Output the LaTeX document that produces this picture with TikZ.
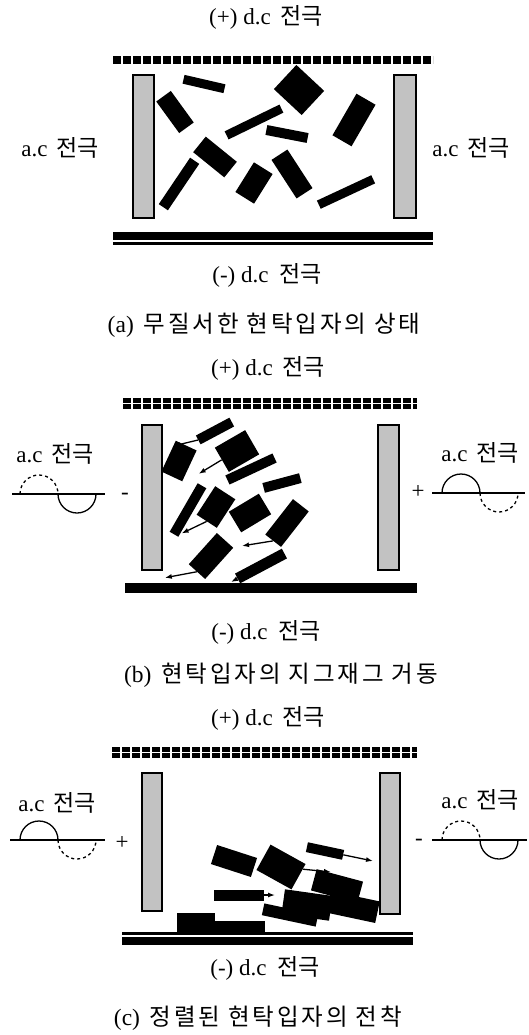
\documentclass[tikz,border=0pt]{standalone}
\usepackage{fontspec}
\setmainfont{Liberation Serif}
\newfontfamily\kr{Noto Sans CJK KR}
\newfontfamily\krcap[LetterSpace=12]{Noto Sans CJK KR}
\usetikzlibrary{arrows.meta}
\newcommand{\dcneg}{(-) d.c\hspace{5pt} {\kr 전극}}
\newcommand{\dcpos}{(+) d.c\hspace{4pt} {\kr 전극}}
\newcommand{\acel}{a.c\hspace{3pt} {\kr 전극}}

\begin{document}
\begin{tikzpicture}[x=1pt, y=-1pt,
    lbl/.style={font=\fontsize{23}{26}\selectfont, inner sep=0pt},
    caption/.style={font=\fontsize{23.5}{26}\selectfont, inner sep=0pt},
    acplate/.style={draw, line width=1.8pt, fill=black!24},
    dcplate/.style={line width=#1, dash pattern=on 8pt off 2pt},
    grain/.style={rectangle, fill=black, inner sep=0pt},
    drift/.style={line width=1.3pt, -{Latex[length=7pt,width=5pt]}},
    wave/.style={line width=1.3pt}]
  \useasboundingbox (0,0) rectangle (529,1035);

  % (a) random particles
  \begin{scope}
    \node[lbl] (dcpA) at (266,17) {\dcpos};
    \draw[dcplate=8pt] (113,60) -- (433,60);
    \draw[acplate] (133,75) rectangle (154,218);
    \draw[acplate] (394,75) rectangle (416,218);
    \fill (113,232) rectangle (433,240);
    \fill (113,242) rectangle (433,244.5);
    \node[lbl] (acLA) at (60,148) {\acel};
    \node[lbl] (acRA) at (471,148) {\acel};

    \node[grain, minimum width=42, minimum height=9, rotate=-13] (pa1) at (204,84) {};
    \node[grain, minimum width=39, minimum height=18, rotate=-54] (pa2) at (175,112) {};
    \node[grain, minimum width=38, minimum height=33, rotate=-43] (pa3) at (299,90) {};
    \node[grain, minimum width=61, minimum height=9, rotate=26] (pa4) at (254,122) {};
    \node[grain, minimum width=42, minimum height=10, rotate=-11] (pa5) at (287,134) {};
    \node[grain, minimum width=48, minimum height=22, rotate=60] (pa6) at (354,120) {};
    \node[grain, minimum width=40, minimum height=20, rotate=-39] (pa7) at (215,157) {};
    \node[grain, minimum width=56, minimum height=11, rotate=56] (pa8) at (179,184) {};
    \node[grain, minimum width=35, minimum height=22, rotate=58] (pa9) at (254,183) {};
    \node[grain, minimum width=46, minimum height=19, rotate=-57] (pa10) at (292,174) {};
    \node[grain, minimum width=60, minimum height=9, rotate=25] (pa11) at (346,192) {};

    \node[lbl] (dcmA) at (267,275) {\dcneg};
    \node[caption] (capA) at (264,325) {(a)\hspace{4pt} {\krcap 무질서한 현탁입자의 상태}};
  \end{scope}

  % (b) zigzag motion
  \begin{scope}
    \node[lbl] (dcpB) at (268,368) {\dcpos};
    \draw[dcplate=11pt] (123,403) -- (417,403);
    \draw[white, line width=1pt] (123,403) -- (417,403);
    \draw[acplate] (142,425) rectangle (162,570);
    \draw[acplate] (378,425) rectangle (399,570);
    \fill (125,583) rectangle (417,593);

    \node[lbl] (acLB) at (55,454) {\acel};
    \draw[wave] (12,494) -- (105,494);
    \draw[wave, dashed] (20,494) arc[start angle=180, end angle=0, radius=19pt];
    \draw[wave] (58,494) arc[start angle=180, end angle=360, radius=19pt];
    \node[lbl] (sgLB) at (125,496) {-};
    \node[lbl] (acRB) at (480,453) {\acel};
    \draw[wave] (432,493) -- (525,493);
    \draw[wave] (442,493) arc[start angle=180, end angle=0, radius=19pt];
    \draw[wave, dashed] (480,493) arc[start angle=180, end angle=360, radius=19pt];
    \node[lbl] (sgRB) at (418,492) {+};

    \node[grain, minimum width=38, minimum height=10, rotate=28] (pb1) at (215,431) {};
    \node[grain, minimum width=34, minimum height=23, rotate=65] (pb2) at (179,461) {};
    \node[grain, minimum width=35, minimum height=28, rotate=30] (pb3) at (237,451) {};
    \node[grain, minimum width=52, minimum height=10, rotate=25] (pb4) at (251,469) {};
    \node[grain, minimum width=38, minimum height=10, rotate=15] (pb5) at (282,483) {};
    \node[grain, minimum width=56, minimum height=10, rotate=60] (pb6) at (188,510) {};
    \node[grain, minimum width=34, minimum height=24, rotate=57] (pb7) at (216,507) {};
    \node[grain, minimum width=35, minimum height=24, rotate=31] (pb8) at (250,513) {};
    \node[grain, minimum width=45, minimum height=20, rotate=52] (pb9) at (287,523) {};
    \node[grain, minimum width=42, minimum height=22, rotate=48] (pb10) at (211,556) {};
    \node[grain, minimum width=53, minimum height=11, rotate=28] (pb11) at (261,566) {};

    \draw[drift] (pb1.west) -- ++(-25,6);
    \draw[drift] (pb3.west) -- ++(-23,14);
    \draw[drift] (pb7.west) -- ++(-25,12);
    \draw[drift] (pb9.west) -- ++(-31,5);
    \draw[drift] (pb10.west) -- ++(-32,6);
    \draw[drift] (pb11) -- ++(-30,16);

    \node[lbl] (dcmB) at (266,632) {\dcneg};
    \node[caption] (capB) at (281,675) {(b)\hspace{4pt} {\krcap 현탁입자의 지그재그 거동}};
  \end{scope}

  % (c) aligned deposit
  \begin{scope}
    \node[lbl] (dcpC) at (268,718) {\dcpos};
    \draw[dcplate=11pt] (112,752) -- (417,752);
    \draw[white, line width=1pt] (112,752) -- (417,752);
    \draw[acplate] (142,773) rectangle (162,911);
    \draw[acplate] (380,773) rectangle (400,914);
    \fill (122,932) rectangle (413,934.5);
    \fill (122,936.5) rectangle (413,945);

    \node[lbl] (acLC) at (57,803) {\acel};
    \draw[wave] (10,840) -- (105,840);
    \draw[wave] (20,840) arc[start angle=180, end angle=0, radius=19pt];
    \draw[wave, dashed] (58,840) arc[start angle=180, end angle=360, radius=19pt];
    \node[lbl] (sgLC) at (122,843) {+};
    \node[lbl] (acRC) at (480,800) {\acel};
    \draw[wave] (432,840) -- (527,840);
    \draw[wave, dashed] (442,840) arc[start angle=180, end angle=0, radius=19pt];
    \draw[wave] (480,840) arc[start angle=180, end angle=360, radius=19pt];
    \node[lbl] (sgRC) at (419,842) {-};

    \node[grain, minimum width=42, minimum height=20, rotate=-18] (pc1) at (234,861) {};
    \node[grain, minimum width=40, minimum height=29, rotate=-29] (pc2) at (281,867) {};
    \node[grain, minimum width=37, minimum height=10, rotate=-12] (pc3) at (325,851) {};
    \node[grain, minimum width=48, minimum height=22, rotate=-15] (pc4) at (337,886) {};
    \node[grain, minimum width=50, minimum height=11] (pc5) at (239,895) {};
    \node[grain, minimum width=48, minimum height=25, rotate=-8] (pc6) at (307,905) {};
    \node[grain, minimum width=50, minimum height=22, rotate=-12] (pc7) at (353,907) {};
    \node[grain, minimum width=55, minimum height=12, rotate=-12] (pc8) at (290,915) {};
    \node[grain, minimum width=38, minimum height=19] (pc9) at (196,922.5) {};
    \node[grain, minimum width=52, minimum height=11] (pc10) at (239,926.5) {};

    \draw[drift] (pc3) -- ++(48,10);
    \draw[drift] (pc2) -- ++(50,5);
    \draw[drift] (pc5) -- ++(36,0);

    \node[lbl] (dcmC) at (265,968) {\dcneg};
    \node[caption] (capC) at (258,1018) {(c)\hspace{4pt} {\krcap 정렬된 현탁입자의 전착}};
  \end{scope}
\end{tikzpicture}
\end{document}
